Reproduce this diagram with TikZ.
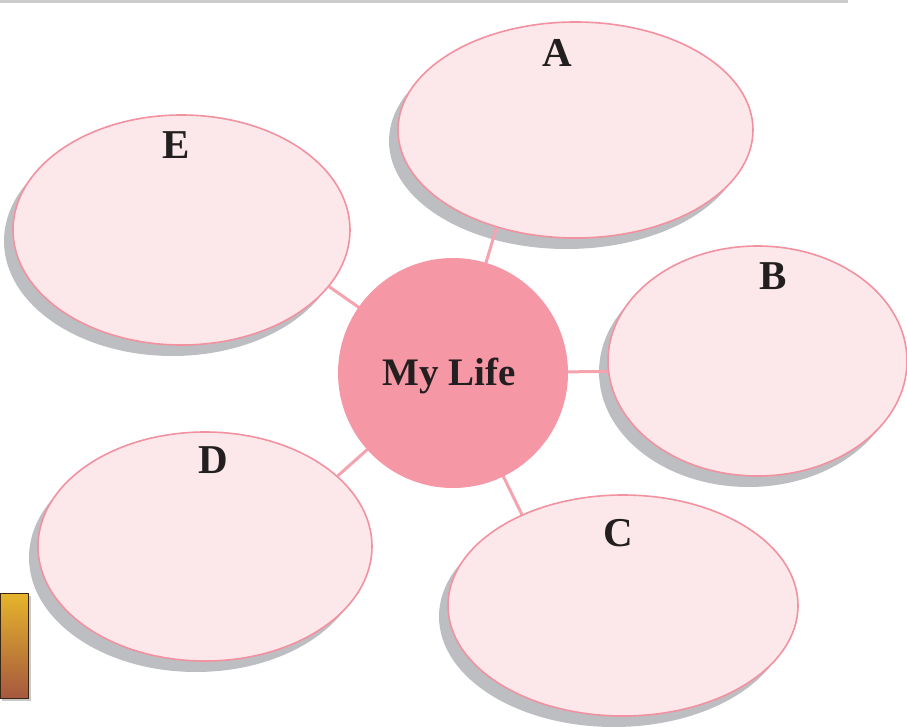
\documentclass[tikz,border=0pt]{standalone}
\usepackage{fontspec}
\setmainfont{Liberation Serif}
\usetikzlibrary{shapes.geometric,calc}
\pgfdeclarelayer{bg}
\pgfsetlayers{bg,main}
\definecolor{fillpink}{HTML}{FCE8EA}
\definecolor{edgepink}{HTML}{F2919F}
\definecolor{hubpink}{HTML}{F597A4}
\definecolor{linkpink}{HTML}{F5A3AE}
\definecolor{shadowgray}{HTML}{BDBEC2}
\definecolor{inkc}{HTML}{231F20}
\definecolor{rulegray}{HTML}{CDCDCD}
\definecolor{goldtop}{HTML}{E6B52A}
\definecolor{brownbot}{HTML}{A5583F}
\begin{document}
\begin{tikzpicture}[x=1pt,y=-1pt,
  bubble/.style={ellipse, fill=fillpink, draw=edgepink, line width=1.6pt, inner sep=0pt},
  hub/.style={circle, fill=hubpink, draw=none, inner sep=0pt, minimum size=230pt},
  lbl/.style={anchor=base, inner sep=0pt, text=inkc, font=\fontsize{41}{41}\selectfont\bfseries},
  link/.style={draw=linkpink, line width=3pt},
  shadowc/.style={fill=shadowgray}]
\useasboundingbox (0,0) rectangle (907,727);
\draw[rulegray, line width=3pt] (0,1.5) -- (848,1.5);
% bubbles
\node[bubble, minimum width=355pt, minimum height=216pt] (A) at (575.5,130) {};
\node[bubble, minimum width=337pt, minimum height=230pt] (E) at (181.5,230) {};
\node[bubble, minimum width=299pt, minimum height=230pt] (B) at (757.5,361) {};
\node[bubble, minimum width=350pt, minimum height=221pt] (C) at (623,605.5) {};
\node[bubble, minimum width=334pt, minimum height=229pt] (D) at (205,546.5) {};
\node[hub] (hub) at (453,373) {};
% labels
\node[lbl] (lA) at (557.5,66.7) {A};
\node[lbl] (lE) at (176,159) {E};
\node[lbl] (lB) at (773,289) {B};
\node[lbl] (lC) at (618,546) {C};
\node[lbl] (lD) at (213.5,473) {D};
\node[lbl, font=\fontsize{39}{39}\selectfont\bfseries] (life) at (449.5,385) {My Life};
\begin{pgfonlayer}{bg}
  \fill[shadowc] ($(A.center)+(-9,11)$) ellipse [x radius=177.5pt, y radius=108pt];
  \fill[shadowc] ($(E.center)+(-9,11)$) ellipse [x radius=168.5pt, y radius=115pt];
  \fill[shadowc] ($(B.center)+(-9,11)$) ellipse [x radius=149.5pt, y radius=115pt];
  \fill[shadowc] ($(C.center)+(-9,11)$) ellipse [x radius=175pt, y radius=110.5pt];
  \fill[shadowc] ($(D.center)+(-9,11)$) ellipse [x radius=167pt, y radius=114.5pt];
  \draw[link] (hub.center) -- (A.231.4);
  \draw[link] (hub.center) -- (B.184.2);
  \draw[link] (hub.center) -- (C.138.1);
  \draw[link] (hub.center) -- (D.28.9);
  \draw[link] (hub.center) -- (E.-21);
\end{pgfonlayer}
% gradient box
\fill[black!35, opacity=0.6] (2,596) rectangle (31,701);
\shade[top color=goldtop, bottom color=brownbot, draw=black!70!brown, line width=0.8pt] (0,593) rectangle (28,698);
\end{tikzpicture}
\end{document}
